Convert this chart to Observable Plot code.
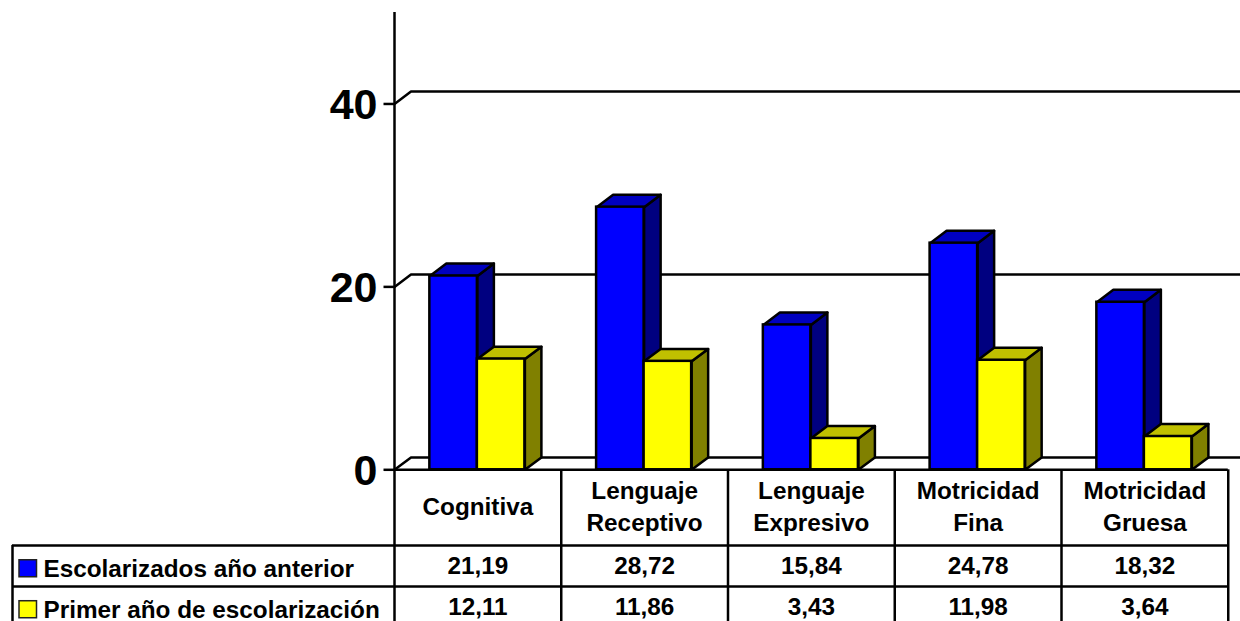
<!DOCTYPE html>
<html>
<head>
<meta charset="utf-8">
<script src="https://cdn.jsdelivr.net/npm/d3@7"></script>
<script src="https://cdn.jsdelivr.net/npm/@observablehq/plot@0.6"></script>
<style>
html,body{margin:0;padding:0;background:#fff;overflow:hidden}
svg{display:block}
</style>
</head>
<body>
<script>
const categories = ["Cognitiva", "Lenguaje\nReceptivo", "Lenguaje\nExpresivo", "Motricidad\nFina", "Motricidad\nGruesa"];
const seriesNames = ["Escolarizados año anterior", "Primer año de escolarización"];
const escolarizados = [21.19, 28.72, 15.84, 24.78, 18.32];
const primerAno = [12.11, 11.86, 3.43, 11.98, 3.64];
const yTicks = [0, 20, 40];

// Layout, in scale units (x: one table column = 1; y: chart value)
const colPx = 166.75, unitPx = 9.15, zeroPx = 469.3, leftPx = 394;
const xEnd = (1240 - leftPx) / colPx;
const depthX = 16.5 / colPx, depthY = 12.4 / unitPx;
const barStart = 0.212, barWidth = 0.285;
const rowLines = [-8.27, -12.75, -17.2];
const rowMid = [-3.85, -10.5, -15];
const legendMid = [-10.82, -15.3];
const leftEdge = (12 - leftPx) / colPx;

const colors = [
  {front: "#0000ff", top: "#0000c0", side: "#000080"},
  {front: "#ffff00", top: "#c0c000", side: "#808000"}
];
const series = [escolarizados, primerAno];

const bars = series.map((vals, s) => vals.map((v, i) => ({
  cat: i, s, v,
  x1: i + barStart + s * barWidth,
  x2: i + barStart + (s + 1) * barWidth
})));

function faces(list, s) {
  const pts = [];
  for (const b of list) {
    const side = [[b.x2, 0], [b.x2 + depthX, depthY], [b.x2 + depthX, b.v + depthY], [b.x2, b.v]];
    const top = [[b.x1, b.v], [b.x2, b.v], [b.x2 + depthX, b.v + depthY], [b.x1 + depthX, b.v + depthY]];
    side.forEach(([x, y]) => pts.push({x, y, id: `side${b.cat}`, c: colors[s].side}));
    top.forEach(([x, y]) => pts.push({x, y, id: `top${b.cat}`, c: colors[s].top}));
  }
  return pts;
}

const grid = yTicks.flatMap(v => [
  {x: 0, y: v, id: v},
  {x: depthX, y: v + depthY, id: v},
  {x: xEnd, y: v + depthY, id: v}
]);

const cellFont = {fontFamily: "Liberation Sans", fontWeight: "bold", fontSize: 24.3, fill: "black", stroke: "none"};
const lineW = {stroke: "black", strokeWidth: 2.5};

const plot = Plot.plot({
  width: 1240, height: 621,
  marginLeft: leftPx, marginRight: 0, marginTop: 12, marginBottom: 621 - zeroPx,
  style: {fontFamily: "Liberation Sans", background: "white"},
  x: {domain: [0, xEnd], axis: null},
  y: {domain: [0, 50], axis: null},
  color: {type: "identity"},
  marks: [
    // back grid
    Plot.line(grid, {x: "x", y: "y", z: "id", ...lineW}),
    // bars
    ...series.flatMap((_, s) => [
      Plot.line(faces(bars[s], s), {x: "x", y: "y", z: "id", fill: "c", curve: "linear-closed", strokeLinejoin: "round", ...lineW}),
      Plot.rectY(bars[s], {x1: "x1", x2: "x2", y1: 0, y2: "v", fill: colors[s].front, ...lineW})
    ]),
    // axis
    Plot.ruleX([0], {y1: rowLines[2], y2: 50, ...lineW}),
    Plot.ruleY(yTicks, {x1: -10.5 / colPx, x2: 0, ...lineW}),
    Plot.text(yTicks, {x: 0, y: d => d, dx: -17, dy: 1.5, text: d => String(d), textAnchor: "end",
      fontFamily: "Liberation Sans", fontWeight: "bold", fontSize: 43, fill: "black"}),
    // table grid
    Plot.ruleY([0], {x1: 0, x2: categories.length, ...lineW}),
    Plot.ruleY(rowLines.slice(0, 2), {x1: leftEdge, x2: categories.length, ...lineW}),
    Plot.ruleX(d3.range(1, categories.length + 1), {y1: rowLines[2], y2: 0, ...lineW}),
    Plot.ruleX([leftEdge], {y1: rowLines[2], y2: rowLines[0], ...lineW}),
    // table text
    Plot.text(categories, {x: (d, i) => i + 0.5, y: rowMid[0], text: d => d, lineHeight: 1.32, lineAnchor: "middle", ...cellFont}),
    ...series.map((vals, s) =>
      Plot.text(vals, {x: (d, i) => i + 0.5, y: rowMid[s + 1], text: d => d.toFixed(2).replace(".", ","), lineAnchor: "middle", ...cellFont})
    ),
    // legend keys + names
    ...seriesNames.map((name, s) => Plot.rect([name], {
      x1: (19 - leftPx) / colPx, x2: (36.5 - leftPx) / colPx,
      y1: legendMid[s] - 0.93, y2: legendMid[s] + 0.93,
      fill: colors[s].front, stroke: "#222", strokeWidth: 1.5
    })),
    ...seriesNames.map((name, s) => Plot.text([name], {
      x: (43 - leftPx) / colPx, y: legendMid[s], text: d => d, textAnchor: "start", lineAnchor: "middle", ...cellFont
    }))
  ]
});
document.body.appendChild(plot);
</script>
</body>
</html>
